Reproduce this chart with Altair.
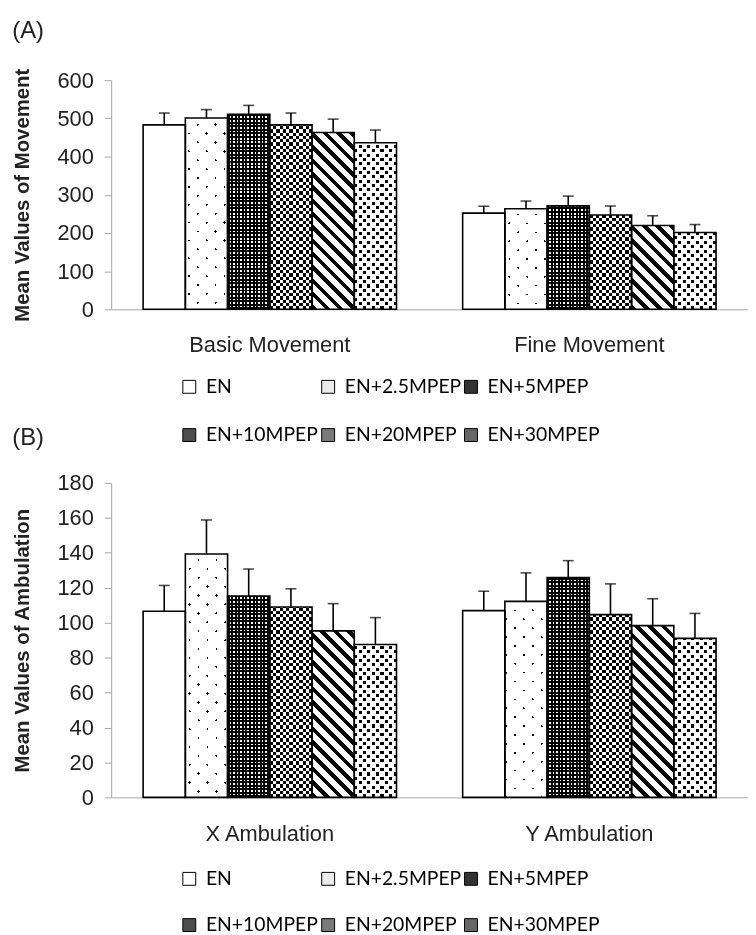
import math
import altair as alt
import pandas as pd

# ---------------- data ----------------
series = ["EN", "EN+2.5MPEP", "EN+5MPEP", "EN+10MPEP", "EN+20MPEP", "EN+30MPEP"]

categories_a = ["Basic Movement", "Fine Movement"]
basic_mean = [483, 501, 511, 483, 463, 436]
basic_err = [31, 22, 23, 31, 35, 33.5]
fine_mean = [252, 263.5, 271, 247, 219.5, 201]
fine_err = [18, 20, 25.5, 23.5, 25.5, 21]

categories_b = ["X Ambulation", "Y Ambulation"]
xamb_mean = [106.5, 139.3, 115.2, 109.0, 95.3, 87.5]
xamb_err = [14.8, 19.5, 15.5, 10.4, 15.6, 15.4]
yamb_mean = [106.9, 112.2, 125.8, 104.6, 98.3, 91.0]
yamb_err = [11.1, 16.3, 9.7, 17.6, 15.4, 14.3]

legend_greys = ["#ffffff", "#ececec", "#333333", "#4d4d4d", "#7a7a7a", "#666666"]

# ---------------- layout constants ----------------
W = 642
PI, PO = 0.207, 0.1
STEP = W / (2 - PI + 2 * PO)
BAR_W = STEP * (1 - PI) / 6
FONT = "Liberation Sans"
AXIS_GREY = "#a6a6a6"
CLEAR = "rgba(255,255,255,0)"


def stripes_expr(nx, ny, period, segs, K, w=BAR_W, lmax=380):
    """Vega expression building a striped linear gradient with a fixed pixel period."""
    n = math.ceil(lmax / period)
    L = n * period
    stops = []
    for k in range(n):
        pos = 0.0
        for frac, col in segs:
            a = (k + pos) / n
            pos += frac
            b = min((k + pos) / n, 1.0)
            stops.append(f"{{offset:{a:.5f},color:'{col}'}}")
            stops.append(f"{{offset:{b:.5f},color:'{col}'}}")
    h = f"(datum.mean*{K:.6f})"
    p1x = 1 if nx < 0 else 0
    p1y = 1 if ny < 0 else 0
    q = f"({nx * nx * w * w:.5f}+{ny * ny:.5f}*{h}*{h})"
    x2 = f"({p1x}+{nx * w * L:.5f}/{q})"
    y2 = f"({p1y}+{ny * L:.5f}*{h}/{q})"
    return (f"{{gradient:'linear',x1:{p1x},y1:{p1y},x2:{x2},y2:{y2},"
            f"stops:[{','.join(stops)}]}}")


R2 = 1 / math.sqrt(2)
CELL30, F30 = 4.4, 0.7


def pattern_layers(s):
    """List of (fill builder, blend) for each series pattern."""
    if s == "EN":
        return [("white", None)]
    if s == "EN+2.5MPEP":
        return [(lambda K: stripes_expr(R2, -R2, 12.7, [(0.14, "#000"), (0.86, "#fff")], K), None),
                (lambda K: stripes_expr(R2, R2, 12.7, [(0.14, CLEAR), (0.86, "#fff")], K), None)]
    if s == "EN+5MPEP":
        return [(lambda K: stripes_expr(1, 0, 3.6, [(0.55, "#000"), (0.45, "#fff")], K), None),
                (lambda K: stripes_expr(0, -1, 3.6, [(0.55, "#000"), (0.45, CLEAR)], K), None)]
    if s == "EN+10MPEP":
        return [(lambda K: stripes_expr(1, 0, 6.6, [(0.5, "#000"), (0.5, "#fff")], K), None),
                (lambda K: stripes_expr(0, -1, 6.6, [(0.5, "#000"), (0.5, "#fff")], K), "difference")]
    if s == "EN+20MPEP":
        return [(lambda K: stripes_expr(R2, -R2, 9.5, [(0.42, "#000"), (0.58, "#fff")], K), None)]
    # staggered small squares: black base, parity checker by difference, then white masks
    return [("black", None),
            (lambda K: stripes_expr(1, 0, 2 * CELL30, [(0.5, "#000"), (0.5, "#fff")], K), "difference"),
            (lambda K: stripes_expr(0, -1, 2 * CELL30, [(0.5, "#000"), (0.5, "#fff")], K), "difference"),
            (lambda K: stripes_expr(1, 0, CELL30, [(F30, CLEAR), (1 - F30, "#fff")], K), None),
            (lambda K: stripes_expr(0, -1, CELL30, [(F30, CLEAR), (1 - F30, "#fff")], K), None)]


def panel(cats, means, errs, ymax, ystep, H, ytitle, label, legend_y, title_offset, row_pad):
    rows = []
    for c, ms, es in zip(cats, means, errs):
        for s, m, e in zip(series, ms, es):
            rows.append({"category": c, "series": s, "mean": m, "top": m + e})
    df = pd.DataFrame(rows)
    K = H / ymax

    y_scale = alt.Scale(domain=[0, ymax], nice=False)
    y_axis = alt.Axis(values=list(range(0, ymax + 1, ystep)), title=ytitle, grid=False,
                      domainColor=AXIS_GREY, tickColor=AXIS_GREY, tickSize=7,
                      labelFont=FONT, labelFontSize=22, labelColor="#222", labelPadding=11,
                      titleFont=FONT, titleFontSize=20.5, titleFontWeight="bold",
                      titleColor="#222", titlePadding=25)
    x_enc = alt.X("category:N", sort=cats,
                  scale=alt.Scale(domain=cats, paddingInner=PI, paddingOuter=PO),
                  axis=alt.Axis(title=None, labelAngle=0, ticks=False, domainColor=AXIS_GREY,
                                labelFont=FONT, labelFontSize=22, labelColor="#222",
                                labelPadding=26))
    xo_enc = alt.XOffset("series:N", sort=series,
                         scale=alt.Scale(domain=series, paddingInner=0, paddingOuter=0))

    base = alt.Chart(df).encode(x=x_enc, xOffset=xo_enc,
                                y=alt.Y("mean:Q", scale=y_scale, axis=y_axis))

    layers = [base.mark_bar().encode(
        color=alt.Color("series:N", sort=series,
                        scale=alt.Scale(domain=series, range=legend_greys),
                        legend=alt.Legend(orient="none", legendX=69, legendY=legend_y,
                                          columns=3, direction="horizontal", title=None,
                                          symbolType="square",
                                          symbolSize=169, symbolStrokeColor="black",
                                          symbolStrokeWidth=1, symbolOpacity=1,
                                          labelFont="Lato", labelFontSize=19.5,
                                          labelColor="black", labelOffset=7,
                                          columnPadding=0, rowPadding=row_pad, padding=0)))]

    for s in series:
        for fill, blend in pattern_layers(s):
            kw = {}
            if blend:
                kw["blend"] = blend
            if isinstance(fill, str):
                mk = base.mark_bar(fill=fill, **kw)
            else:
                mk = base.mark_bar(fill=alt.ExprRef(expr=fill(K)), **kw)
            layers.append(mk.transform_filter(alt.datum.series == s))

    layers.append(base.mark_bar(fillOpacity=0, stroke="black", strokeWidth=1.6))
    layers.append(base.mark_rule(color="black", strokeWidth=1.6).encode(y2="top:Q"))
    layers.append(alt.Chart(df).mark_tick(color="black", size=11, thickness=1.6).encode(
        x=x_enc, xOffset=xo_enc, y=alt.Y("top:Q", scale=y_scale, axis=y_axis)))

    return alt.layer(*layers).properties(
        width=W, height=H,
        title=alt.TitleParams(label, anchor="start", frame="bounds", font=FONT,
                              fontSize=24, fontWeight="normal", color="#222",
                              offset=title_offset))


panel_a = panel(categories_a, [basic_mean, fine_mean], [basic_err, fine_err],
                600, 100, 231, "Mean Values of Movement", "(A)", 299, 25, 28)
panel_b = panel(categories_b, [xamb_mean, yamb_mean], [xamb_err, yamb_err],
                180, 20, 317, "Mean Values of Ambulation", "(B)", 389, 22, 26)

chart = alt.vconcat(panel_a, panel_b, spacing=-19).resolve_scale(
    color="independent", y="independent", x="independent", xOffset="independent"
).resolve_legend(color="independent").properties(
    padding={"left": 4, "top": 7, "right": 0, "bottom": 0}
).configure_view(strokeWidth=0)

chart.save("out.html", embed_options={"renderer": "svg", "actions": False})
